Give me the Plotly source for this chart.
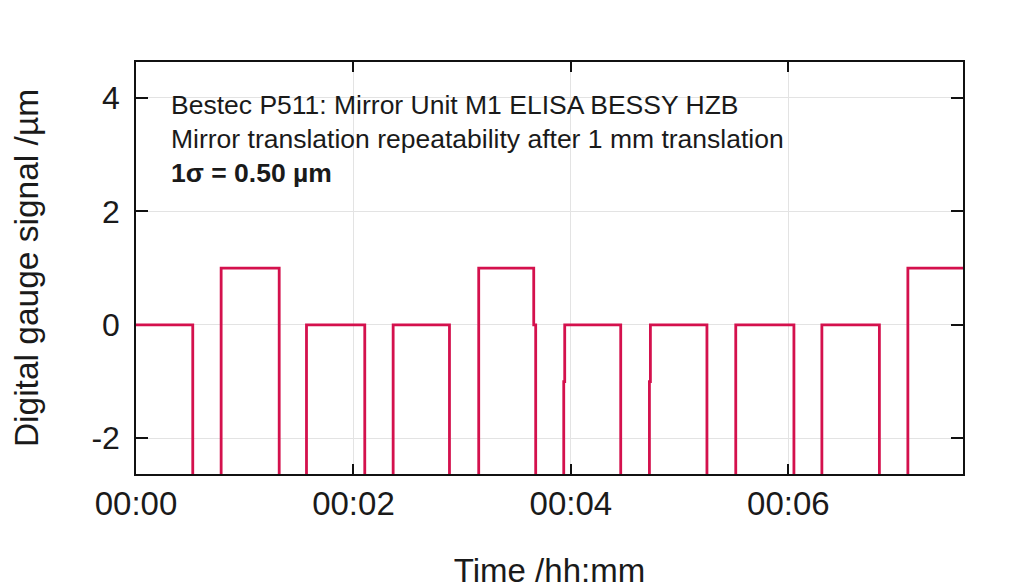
import pandas as pd
import plotly.graph_objects as go

# Data: step transitions (minutes from start) and signal level (µm)
times_min = [0.0, 0.522, 0.783, 1.317, 1.568, 2.104, 2.365, 2.883, 3.152, 3.658, 3.676,
             3.934, 3.943, 4.458, 4.722, 4.731, 5.251, 5.516, 6.051, 6.308, 6.837, 7.099, 7.606]
signal_um = [0, -10, 1, -10, 0, -10, 0, -10, 1, 0, -10,
             -1.0, 0, -10, -1.0, 0, -10, 0, -10, 0, -10, 1, 1]

x_tick_labels = ["00:00", "00:02", "00:04", "00:06"]
y_ticks = [-2, 0, 2, 4]

annotation_lines = [
    "Bestec P511: Mirror Unit M1 ELISA BESSY HZB",
    "Mirror translation repeatability after 1 mm translation",
    "<b>1σ = 0.50 µm</b>",
]

base = pd.Timestamp("2024-01-01 00:00:00")
x = [base + pd.Timedelta(minutes=t) for t in times_min]
tick_vals = [base + pd.Timedelta(minutes=2 * i) for i in range(len(x_tick_labels))]

FONT = "Liberation Sans"
fig = go.Figure()
fig.add_trace(go.Scatter(
    x=x, y=signal_um, mode="lines", line=dict(color="#d4114d", width=2.8, shape="hv"),
    showlegend=False, hoverinfo="skip"))

# page body has an 8px margin, so offsets compensate for it
fig.update_layout(
    width=1024, height=588,
    margin=dict(l=127.5, r=69.3, t=53.7, b=121.7),
    paper_bgcolor="white", plot_bgcolor="white",
    font=dict(family=FONT, color="#1a1a1a", size=32),
)
fig.update_xaxes(
    type="date", range=[base, base + pd.Timedelta(minutes=7.606)],
    tickvals=tick_vals, ticktext=x_tick_labels,
    ticks="inside", ticklen=10, tickwidth=1.5, tickcolor="#111",
    showline=True, linecolor="#111", linewidth=1.5, mirror="ticks",
    showgrid=True, gridcolor="#e3e3e3", gridwidth=1, zeroline=False,
    tickfont=dict(size=33, family=FONT), ticklabelstandoff=0,
    title=dict(text="Time /hh:mm", font=dict(size=33, family=FONT), standoff=38),
)
fig.update_yaxes(
    range=[-2.63, 4.634], tickvals=y_ticks, ticktext=[str(v) for v in y_ticks],
    ticks="inside", ticklen=12, tickwidth=1.5, tickcolor="#111",
    showline=True, linecolor="#111", linewidth=1.5, mirror="ticks",
    showgrid=True, gridcolor="#e3e3e3", gridwidth=1, zeroline=False,
    layer="below traces",
    tickfont=dict(size=32, family=FONT), ticklabelstandoff=8,
    title=dict(text="Digital gauge signal /µm", font=dict(size=33.5, family=FONT), standoff=43),
)

ys = [0.895, 0.813, 0.731]
for txt, yy in zip(annotation_lines, ys):
    fig.add_annotation(text=txt, xref="paper", yref="paper", x=0.0405, y=yy,
                       xanchor="left", yanchor="middle", showarrow=False,
                       font=dict(size=26.5, family=FONT, color="#1a1a1a"))

fig.write_html("out.html")
